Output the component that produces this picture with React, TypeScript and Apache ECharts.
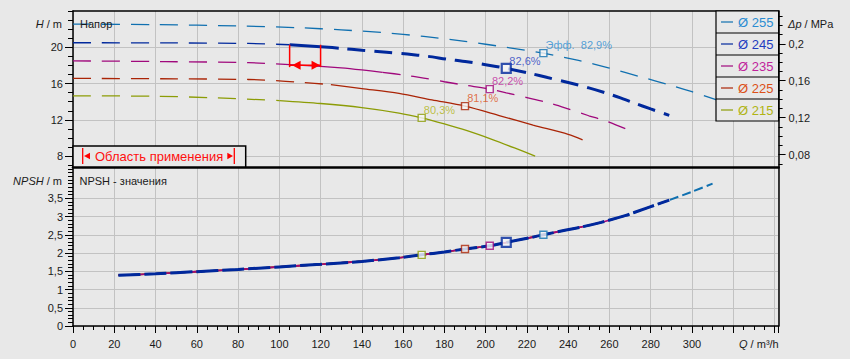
import React, { useEffect, useRef } from 'react';
import * as echarts from 'echarts';

// ---------------- data ----------------
const diameterLabels = ['Ø 255', 'Ø 245', 'Ø 235', 'Ø 225', 'Ø 215'];

// head curves  [Q m³/h, H m]
const head255 = [[0, 22.55], [40, 22.5], [80, 22.35], [110, 22.15], [130, 21.92], [150, 21.62], [170, 21.2], [190, 20.65], [210, 20.0], [228, 19.35], [245, 18.55], [260, 17.7], [275, 16.75], [290, 15.8], [300, 15.1], [312, 14.2]];
const head245 = [[0, 20.5], [50, 20.48], [85, 20.42], [105, 20.28], [120, 20.07], [130, 19.88], [140, 19.68], [152, 19.45], [162, 19.25], [172, 19.0], [181, 18.7], [191, 18.4], [200, 18.08], [210, 17.68], [222, 17.1], [230, 16.66], [240, 16.12], [250, 15.52], [258, 14.98], [265, 14.45], [272, 13.85], [280, 13.2], [289, 12.5]];
const head235 = [[0, 18.5], [45, 18.42], [85, 18.3], [105, 18.08], [120, 17.9], [130, 17.73], [140, 17.5], [150, 17.24], [160, 16.95], [170, 16.6], [180, 16.2], [190, 15.82], [202, 15.39], [210, 14.98], [220, 14.45], [230, 13.9], [240, 13.2], [250, 12.45], [258, 11.9], [268, 11.0]];
const head225 = [[0, 16.57], [50, 16.52], [85, 16.45], [100, 16.3], [111, 16.13], [125, 15.88], [140, 15.45], [158, 14.92], [174, 14.2], [190, 13.51], [207, 12.45], [223, 11.42], [240, 10.4], [247, 9.8]];
const head215 = [[0, 14.65], [40, 14.6], [70, 14.42], [100, 14.12], [120, 13.8], [140, 13.35], [158, 12.75], [169, 12.22], [180, 11.55], [191, 10.8], [203, 9.85], [214, 8.9], [224, 8.0]];
const headCurves = [head255, head245, head235, head225, head215];

// Q ranges of each drawn piece of the head curves
const headSegments: [number, number, string][][] = [
  [[0, 312, 'dash']],
  [[0, 105, 'dash'], [105, 120, 'bold'], [120, 289, 'boldDash']],
  [[0, 105, 'dash'], [105, 150, 'solid'], [150, 268, 'dash']],
  [[0, 125, 'dash'], [125, 247, 'solid']],
  [[0, 100, 'dash'], [100, 224, 'solid']],
];

// NPSH curve [Q, NPSH]
const npshQ = [22, 40, 60, 80, 100, 120, 140, 158, 169, 180, 190, 202, 210, 224, 228, 239, 247, 256, 268, 272, 289, 300, 310];
const npshValues = [1.39, 1.43, 1.49, 1.55, 1.62, 1.69, 1.77, 1.87, 1.95, 2.03, 2.11, 2.2, 2.29, 2.45, 2.5, 2.63, 2.72, 2.84, 3.03, 3.11, 3.45, 3.68, 3.9];
const npshEndQ = [310, 289, 268, 247, 224];

// best efficiency points
const effQ = [228, 210, 202, 190, 169];
const effH = [19.35, 17.68, 15.39, 13.51, 12.22];
const effNpsh = [2.5, 2.29, 2.2, 2.11, 1.95];
const effLabels = ['82,9%', '82,6%', '82,2%', '81,1%', '80,3%'];
const effPrefix = 'Эфф.  ';

// application range on Ø 245
const rangeQ = [105, 120];

// tick labels
const xLabelValues = [0, 20, 40, 60, 80, 100, 120, 140, 160, 180, 200, 220, 240, 260, 280, 300];
const hLabelValues = [8, 12, 16, 20];
const dpLabelValues = [0.08, 0.12, 0.16, 0.2];
const npshLabelValues = [0, 0.5, 1, 1.5, 2, 2.5, 3, 3.5];

// ---------------- styles ----------------
const BG = '#e8e8e8';
const GRID_COLOR = '#c2c2c2';
const INK = '#1a1a1a';
const FONT = "'Liberation Sans', Arial, Helvetica, sans-serif";
const lineColors = ['#1070b0', '#00289c', '#a0087c', '#aa2406', '#8c9c06'];
const textColors = ['#2a8cd2', '#1f3cc0', '#c0249c', '#dc5018', '#b0b414'];
const SEG_STYLE: Record<string, { width: number; type: any }> = {
  dash: { width: 1.3, type: [18, 11] },
  solid: { width: 1.3, type: 'solid' },
  bold: { width: 3, type: 'solid' },
  boldDash: { width: 3, type: [18, 9] },
};

const X_MAX = 342;
const H_MIN = 6.8;
const H_MAX = 24;
const NPSH_MAX = 4.33;
const MPA_PER_M = 0.00981;

function range(from: number, to: number, step: number) {
  const out: number[] = [];
  for (let k = Math.round(from / step); k * step <= to + 1e-9; k++) out.push(Math.round(k * step * 1000) / 1000);
  return out;
}

const comma = (v: number) => String(Math.round(v * 1000) / 1000).replace('.', ',');

function buildOption(): any {
  const labelStyle = { color: INK, fontSize: 11, fontFamily: FONT };
  const black = { color: '#000', width: 1 };

  const series: any[] = [];
  headCurves.forEach((curve, i) => {
    headSegments[i].forEach(([from, to, kind]) => {
      const st = SEG_STYLE[kind];
      series.push({
        type: 'line', xAxisIndex: 0, yAxisIndex: 0, silent: true,
        data: curve.filter((p) => p[0] >= from && p[0] <= to),
        symbol: 'none', smooth: 0.3, z: i === 1 ? 4 : 3,
        lineStyle: { color: lineColors[i], width: st.width, type: st.type, cap: 'butt' },
      });
    });
  });

  const npshPts = npshQ.map((q, k) => [q, npshValues[k]]);
  [0, 4, 3, 2, 1].forEach((i) => {
    const ls = i === 1
      ? { color: lineColors[i], width: 3, type: [22, 4] }
      : i === 0
        ? { color: lineColors[i], width: 2, type: [9, 4] }
        : { color: lineColors[i], width: 1.6, type: 'solid' };
    series.push({
      type: 'line', xAxisIndex: 1, yAxisIndex: 4, silent: true,
      data: npshPts.filter((p) => p[0] <= npshEndQ[i]),
      symbol: 'none', smooth: 0.3, z: i === 1 ? 4 : 3, lineStyle: { ...ls, cap: 'butt' },
    });
  });

  const sq = (i: number) => ({
    symbol: 'rect', symbolSize: i === 1 ? 9 : 7,
    itemStyle: { color: '#f6f6f6', borderColor: lineColors[i], borderWidth: i === 1 ? 2.2 : 1.4 },
  });
  series.push({
    type: 'scatter', xAxisIndex: 0, yAxisIndex: 0, z: 6, silent: true,
    data: effQ.map((q, i) => ({
      value: [q, effH[i]], ...sq(i),
      label: {
        show: true, position: 'right', distance: 0,
        offset: [i === 1 ? -2.5 : -2, i === 1 ? -7 : -8],
        formatter: (i === 0 ? effPrefix : '') + effLabels[i],
        color: textColors[i], fontSize: 11, fontFamily: FONT,
      },
    })),
  });
  series.push({
    type: 'scatter', xAxisIndex: 1, yAxisIndex: 4, z: 6, silent: true,
    data: effQ.map((q, i) => ({ value: [q, effNpsh[i]], ...sq(i) })),
  });

  const topH = (head245.find((p) => p[0] === rangeQ[0]) || [0, 20.3])[1];
  series.push({
    type: 'custom', xAxisIndex: 0, yAxisIndex: 0, z: 7, silent: true,
    data: [[rangeQ[0], rangeQ[1], topH]],
    encode: { x: [0, 1], y: 2 },
    renderItem: (_p: any, api: any) => {
      const a = api.coord([api.value(0), api.value(2)]);
      const b = api.coord([api.value(1), api.value(2)]);
      const top = a[1];
      const bottom = top + 22.4;
      const ay = top + 20.5;
      const red = '#ff0000';
      const st = { stroke: red, lineWidth: 1.5 };
      return {
        type: 'group',
        children: [
          { type: 'line', shape: { x1: a[0], y1: top, x2: a[0], y2: bottom }, style: st },
          { type: 'line', shape: { x1: b[0], y1: top, x2: b[0], y2: bottom }, style: st },
          { type: 'line', shape: { x1: a[0], y1: ay, x2: b[0], y2: ay }, style: st },
          { type: 'polygon', shape: { points: [[a[0] + 2.5, ay], [a[0] + 11, ay - 4.5], [a[0] + 11, ay + 4.5]] }, style: { fill: red } },
          { type: 'polygon', shape: { points: [[b[0] - 0.5, ay], [b[0] - 9, ay - 4.5], [b[0] - 9, ay + 4.5]] }, style: { fill: red } },
        ],
      };
    },
  });

  const rt = (text: string, x: number, y: number, align: string, extra: any = {}) => ({
    type: 'text', x, y, z: 100,
    style: {
      text, fill: INK, fontSize: 11, fontFamily: FONT, align, verticalAlign: 'middle',
      rich: {
        i: { fontStyle: 'italic', fontSize: 11, fontFamily: FONT, fill: INK },
        n: { fontSize: 11, fontFamily: FONT, fill: INK },
      },
      ...extra,
    },
  });

  const graphic: any[] = [
    rt('{i|H}{n| / m}', 62, 24, 'right'),
    rt('{i|NPSH}{n| / m}', 62, 181, 'right'),
    rt('{i|Δp}{n| / MPa}', 788, 24, 'left'),
    rt('{i|Q}{n| / m³/h}', 739, 344, 'left'),
    rt('Напор', 80, 24, 'left'),
    rt('NPSH - значения', 79.5, 181, 'left'),
    // legend box
    { type: 'rect', z: 100, shape: { x: 716, y: 11, width: 62.6, height: 110 }, style: { fill: BG, stroke: '#000', lineWidth: 1.2 } },
  ];
  diameterLabels.forEach((lbl, i) => {
    const cy = 22 + 22 * i;
    if (i > 0) graphic.push({ type: 'line', z: 101, shape: { x1: 716, y1: 11 + 22 * i, x2: 778.6, y2: 11 + 22 * i }, style: { stroke: '#000', lineWidth: 1.2 } });
    graphic.push({ type: 'line', z: 101, shape: { x1: 721, y1: cy, x2: 733, y2: cy }, style: { stroke: lineColors[i], lineWidth: 1.2 } });
    graphic.push({ type: 'text', z: 101, x: 738, y: cy + 0.5, style: { text: lbl, fill: textColors[i], fontSize: 13, fontFamily: FONT, align: 'left', verticalAlign: 'middle' } });
  });
  // application range box
  graphic.push(
    { type: 'rect', z: 100, shape: { x: 73, y: 146, width: 172.7, height: 21 }, style: { fill: BG, stroke: '#000', lineWidth: 1.5 } },
    { type: 'line', z: 101, shape: { x1: 82.7, y1: 148, x2: 82.7, y2: 164 }, style: { stroke: '#ff0000', lineWidth: 1.3 } },
    { type: 'polygon', z: 101, shape: { points: [[84, 156], [90, 152.8], [90, 159.2]] }, style: { fill: '#ff0000' } },
    { type: 'text', z: 101, x: 95, y: 156.5, style: { text: 'Область применения', fill: '#ff1010', fontSize: 13, fontFamily: FONT, align: 'left', verticalAlign: 'middle' } },
    { type: 'polygon', z: 101, shape: { points: [[233, 156], [227.3, 152.8], [227.3, 159.2]] }, style: { fill: '#ff0000' } },
    { type: 'line', z: 101, shape: { x1: 234.3, y1: 148, x2: 234.3, y2: 164 }, style: { stroke: '#ff0000', lineWidth: 1.3 } },
  );

  return {
    animation: false,
    backgroundColor: BG,
    grid: [
      { left: 73, top: 11, width: 705.6, height: 156, containLabel: false, outerBoundsMode: 'none' },
      { left: 73, top: 168, width: 705.6, height: 158, containLabel: false, outerBoundsMode: 'none' },
    ],
    xAxis: [
      {
        gridIndex: 0, type: 'value', min: 0, max: X_MAX, interval: 20, position: 'bottom',
        axisLine: { show: true, lineStyle: { color: '#000', width: 2.6 } }, axisTick: { show: false }, axisLabel: { show: false },
        splitLine: { show: true, lineStyle: { color: GRID_COLOR, width: 1 } },
      },
      {
        gridIndex: 1, type: 'value', min: 0, max: X_MAX, interval: 20, position: 'bottom',
        axisLine: { show: true, lineStyle: { color: '#000', width: 1.5 } },
        axisTick: { show: true, length: 7, lineStyle: black },
        axisLabel: { ...labelStyle, margin: 12, formatter: (v: number) => (xLabelValues.indexOf(v) >= 0 ? String(v) : '') },
        splitLine: { show: true, lineStyle: { color: GRID_COLOR, width: 1 } },
      },
      {
        gridIndex: 1, type: 'value', min: 0, max: X_MAX, position: 'bottom',
        axisLine: { show: false }, axisTick: { show: true, length: 4, lineStyle: black, customValues: range(0, 340, 5) },
        axisLabel: { show: false }, splitLine: { show: false },
      },
      {
        gridIndex: 0, type: 'value', min: 0, max: X_MAX, position: 'top',
        axisLine: { show: true, lineStyle: { color: '#000', width: 1.6 } }, axisTick: { show: false }, axisLabel: { show: false }, splitLine: { show: false },
      },
    ],
    yAxis: [
      {
        gridIndex: 0, type: 'value', position: 'left', min: H_MIN, max: H_MAX,
        axisLine: { show: true, lineStyle: { color: '#000', width: 1.5 } },
        axisTick: { show: true, length: 8, lineStyle: black, customValues: hLabelValues },
        axisLabel: { ...labelStyle, margin: 10, customValues: hLabelValues },
        splitLine: { show: true, lineStyle: { color: GRID_COLOR, width: 1 } },
      },
      {
        gridIndex: 0, type: 'value', position: 'left', min: H_MIN, max: H_MAX,
        axisLine: { show: false }, axisTick: { show: true, length: 5, lineStyle: black, customValues: range(7, 24, 1) },
        axisLabel: { show: false }, splitLine: { show: false },
      },
      {
        gridIndex: 0, type: 'value', position: 'right', min: H_MIN * MPA_PER_M, max: H_MAX * MPA_PER_M,
        axisLine: { show: true, lineStyle: { color: '#000', width: 1.5 } },
        axisTick: { show: true, length: 7, lineStyle: black, customValues: dpLabelValues },
        axisLabel: { ...labelStyle, margin: 10, customValues: dpLabelValues, formatter: (v: number) => comma(v) },
        splitLine: { show: false },
      },
      {
        gridIndex: 0, type: 'value', position: 'right', min: H_MIN * MPA_PER_M, max: H_MAX * MPA_PER_M,
        axisLine: { show: false }, axisTick: { show: true, length: 4, lineStyle: black, customValues: range(0.07, 0.23, 0.01) },
        axisLabel: { show: false }, splitLine: { show: false },
      },
      {
        gridIndex: 1, type: 'value', position: 'left', min: 0, max: NPSH_MAX,
        axisLine: { show: true, lineStyle: { color: '#000', width: 1.5 } },
        axisTick: { show: true, length: 8, lineStyle: black, customValues: npshLabelValues },
        axisLabel: { ...labelStyle, margin: 10, customValues: npshLabelValues, formatter: (v: number) => comma(v) },
        splitLine: { show: true, lineStyle: { color: GRID_COLOR, width: 1 } },
      },
      {
        gridIndex: 1, type: 'value', position: 'left', min: 0, max: NPSH_MAX,
        axisLine: { show: false }, axisTick: { show: true, length: 5, lineStyle: black, customValues: range(0, 4.3, 0.1) },
        axisLabel: { show: false }, splitLine: { show: false },
      },
      {
        gridIndex: 1, type: 'value', position: 'right', min: 0, max: NPSH_MAX,
        axisLine: { show: true, lineStyle: { color: '#000', width: 1.5 } }, axisTick: { show: false }, axisLabel: { show: false }, splitLine: { show: false },
      },
    ],
    series,
    graphic,
  };
}

export default function App() {
  const ref = useRef<HTMLDivElement>(null);
  useEffect(() => {
    if (!ref.current) return;
    const chart = echarts.init(ref.current, null, { renderer: 'svg' });
    chart.setOption(buildOption());
    return () => chart.dispose();
  }, []);
  return (
    <div style={{ position: 'fixed', left: 0, top: 0, width: 850, height: 359, background: BG }}>
      <div ref={ref} style={{ width: 850, height: 359 }} />
    </div>
  );
}
